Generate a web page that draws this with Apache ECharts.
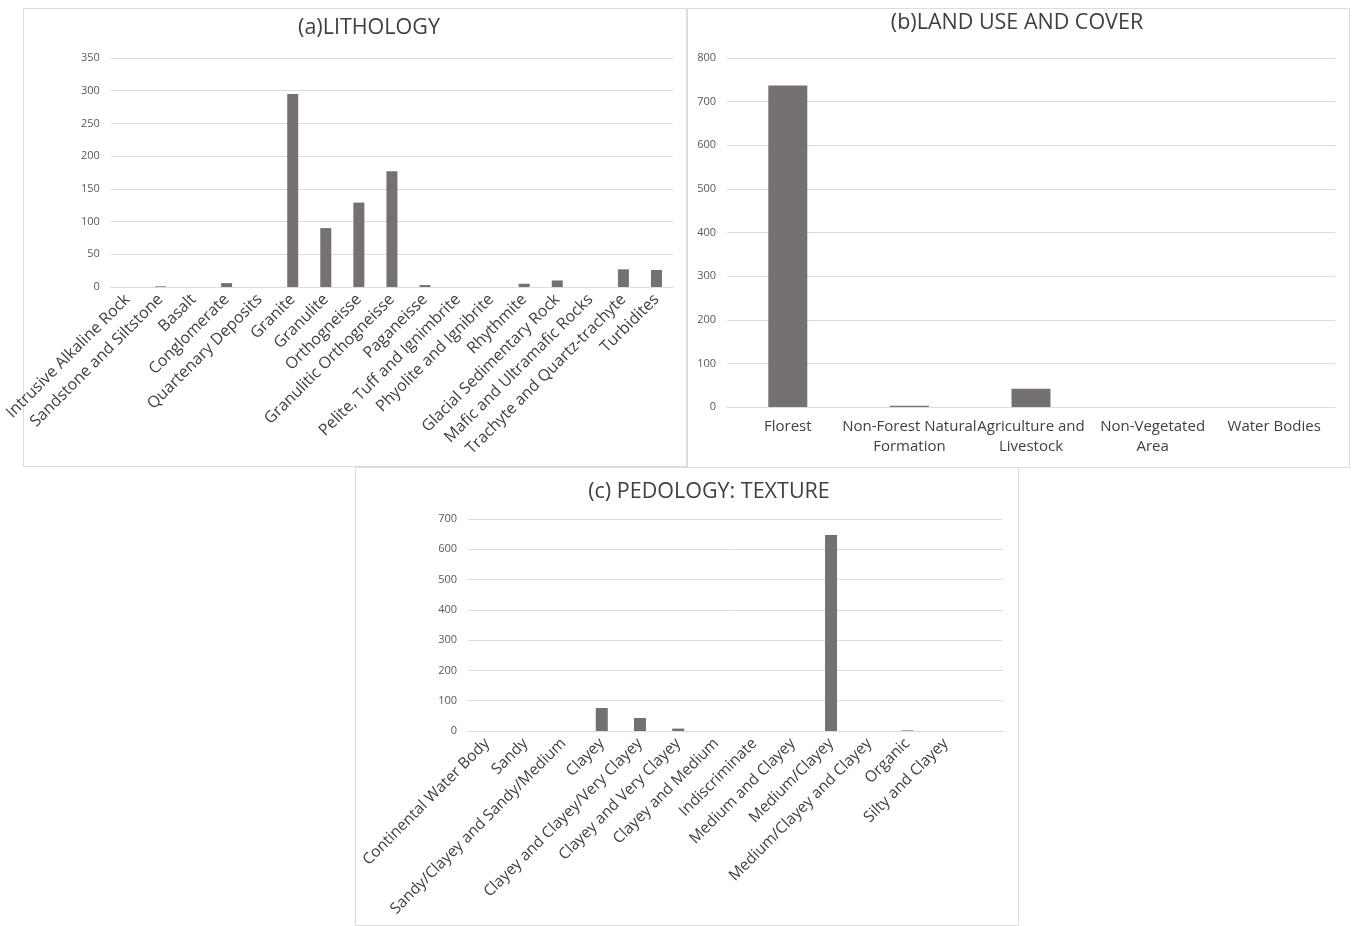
<!DOCTYPE html>
<html>
<head>
<meta charset="utf-8">
<script src="https://cdn.jsdelivr.net/npm/echarts@6/dist/echarts.min.js"></script>
<style>
  html, body { margin: 0; padding: 0; background: #fff; }
  #display { width: 1352px; height: 926px; }
</style>
</head>
<body>
<div id="display"></div>
<script>
// (a) lithology
var lithologyCategories = ['Intrusive Alkaline Rock', 'Sandstone and Siltstone', 'Basalt', 'Conglomerate',
  'Quartenary Deposits', 'Granite', 'Granulite', 'Orthogneisse', 'Granulitic Orthogneisse', 'Paganeisse',
  'Pelite, Tuff and Ignimbrite', 'Phyolite and Ignibrite', 'Rhythmite', 'Glacial Sedimentary Rock',
  'Mafic and Ultramafic Rocks', 'Trachyte and Quartz-trachyte', 'Turbidites'];
var lithologyValues = [0, 1, 0, 6, 0, 295, 90, 129, 177, 3, 0, 0, 5, 10, 0, 27, 26];
var lithologyTicks = [0, 50, 100, 150, 200, 250, 300, 350];

// (b) land use and cover
var landCategories = ['Florest', 'Non-Forest Natural\nFormation', 'Agriculture and\nLivestock', 'Non-Vegetated\nArea', 'Water Bodies'];
var landValues = [737, 3, 42, 0, 0];
var landTicks = [0, 100, 200, 300, 400, 500, 600, 700, 800];

// (c) pedology: texture (last slot has no label in the original)
var pedologyCategories = ['Continental Water Body', 'Sandy', 'Sandy/Clayey and Sandy/Medium', 'Clayey',
  'Clayey and Clayey/Very Clayey', 'Clayey and Very Clayey', 'Clayey and Medium', 'Indiscriminate',
  'Medium and Clayey', 'Medium/Clayey', 'Medium/Clayey and Clayey', 'Organic', 'Silty and Clayey', ''];
var pedologyValues = [0, 0, 0, 76, 43, 8, 0, 0, 0, 647, 0, 2, 0, 0];
var pedologyTicks = [0, 100, 200, 300, 400, 500, 600, 700];

var FONT = 'Open Sans';
var barColor = '#767171';
var lineColor = '#dcdcdc';

function makeX(idx, cats, rotate, size) {
  return {
    type: 'category', gridIndex: idx, data: cats,
    axisTick: { show: false },
    axisLine: { lineStyle: { color: lineColor } },
    axisLabel: { interval: 0, rotate: rotate, color: '#404040', fontSize: size, fontFamily: FONT, margin: 10, lineHeight: 20 }
  };
}
function makeY(idx, ticks) {
  return {
    type: 'value', gridIndex: idx, min: ticks[0], max: ticks[ticks.length - 1],
    interval: ticks[1] - ticks[0],
    axisLine: { show: false }, axisTick: { show: false },
    splitLine: { lineStyle: { color: lineColor } },
    axisLabel: { color: '#595959', fontSize: 11, fontFamily: FONT, margin: 11 }
  };
}
function makeBar(idx, vals, w) {
  return { type: 'bar', xAxisIndex: idx, yAxisIndex: idx, data: vals, barWidth: w, itemStyle: { color: barColor } };
}
function box(x, y, w, h) {
  return { type: 'rect', shape: { x: x, y: y, width: w, height: h }, style: { fill: 'none', stroke: '#dcdcdc', lineWidth: 1 }, silent: true };
}
function makeTitle(text, x, y) {
  return { text: text, left: x, top: y, textAlign: 'center',
    textStyle: { fontFamily: FONT, fontSize: 21.5, fontWeight: 'normal', color: '#404040' } };
}

var myDisplay = echarts.init(document.getElementById('display'));
myDisplay.setOption({
  animation: false,
  title: [
    makeTitle('(a)LITHOLOGY', 364, 12),
    makeTitle('(b)LAND USE AND COVER', 1012, 7),
    makeTitle('(c) PEDOLOGY: TEXTURE', 704, 476)
  ],
  graphic: [box(23.5, 8.5, 663, 458), box(687.5, 8.5, 662, 459), box(355.5, 467.5, 663, 458)],
  grid: [
    { left: 110, top: 58, width: 563, height: 229 },
    { left: 727, top: 58, width: 608, height: 349 },
    { left: 468, top: 519, width: 535, height: 212 }
  ],
  xAxis: [
    makeX(0, lithologyCategories, 45, 16),
    makeX(1, landCategories, 0, 15),
    makeX(2, pedologyCategories, 45, 15.5)
  ],
  yAxis: [makeY(0, lithologyTicks), makeY(1, landTicks), makeY(2, pedologyTicks)],
  series: [
    makeBar(0, lithologyValues, 11),
    makeBar(1, landValues, 39),
    makeBar(2, pedologyValues, 12)
  ]
});

window.onresize = function () {
  myDisplay.resize();
};
</script>
</body>
</html>
